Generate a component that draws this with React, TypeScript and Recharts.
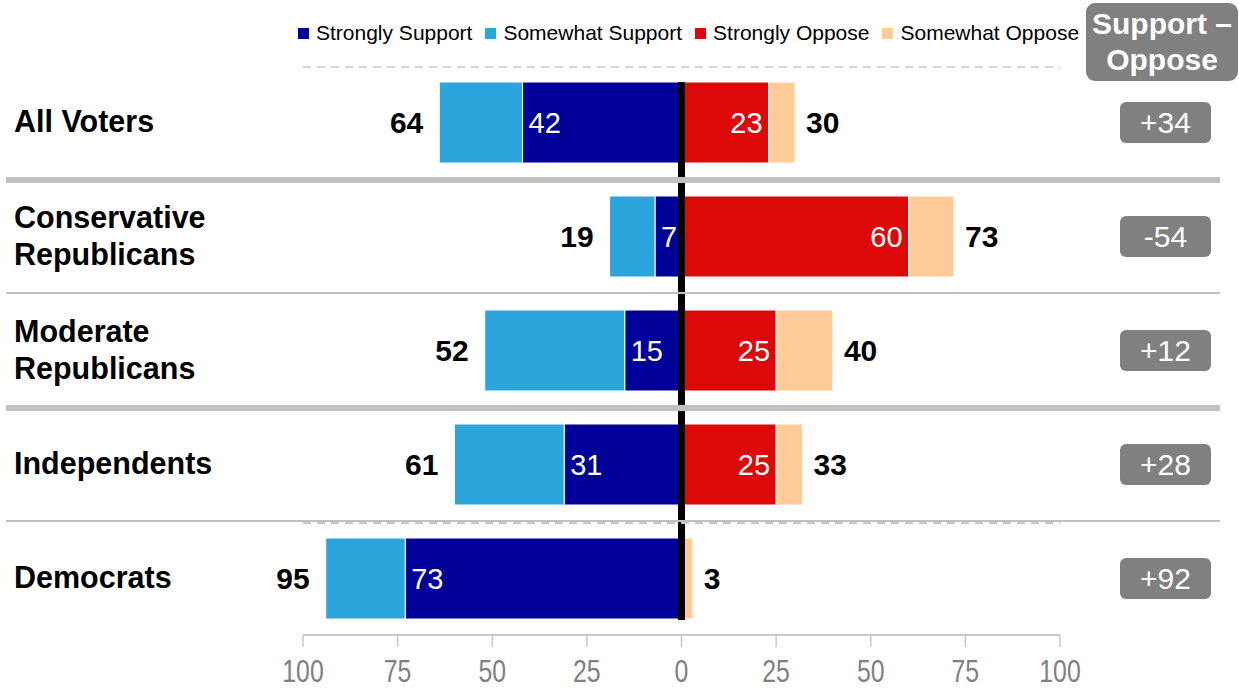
import React from 'react';
import { BarChart, Bar, XAxis, YAxis, LabelList, ReferenceLine, Legend } from 'recharts';

const categories = ['All Voters', 'Conservative Republicans', 'Moderate Republicans', 'Independents', 'Democrats'];
const stronglySupport = [42, 7, 15, 31, 73];
const somewhatSupport = [22, 12, 37, 29, 21];
const stronglyOppose = [23, 60, 25, 25, 0];
const somewhatOppose = [7, 12, 15, 7, 3];
const supportTotals = [64, 19, 52, 61, 95];
const opposeTotals = [30, 73, 40, 33, 3];
const netLabels = ['+34', '-54', '+12', '+28', '+92'];
const xTicks = [-100, -75, -50, -25, 0, 25, 50, 75, 100];
const legendOrder = ['Strongly Support', 'Somewhat Support', 'Strongly Oppose', 'Somewhat Oppose'];

const COLORS = {
  stronglySupport: '#000099',
  somewhatSupport: '#2CA5DC',
  stronglyOppose: '#DD0909',
  somewhatOppose: '#FFCC99',
};

const FONT = "'Liberation Sans', Arial, Helvetica, sans-serif";

const data = categories.map((c, i) => ({
  category: c,
  stronglySupport: -stronglySupport[i],
  somewhatSupport: -somewhatSupport[i],
  stronglyOppose: stronglyOppose[i],
  somewhatOppose: somewhatOppose[i],
  supportTotal: supportTotals[i],
  opposeTotal: opposeTotals[i],
}));

const W = 1239;
const H = 688;
const M = { top: 65, right: 179, bottom: 0, left: 0 };
const Y_AXIS_W = 303;
const X_AXIS_H = 53;
const BAND_HALF = (H - M.top - X_AXIS_H) / categories.length / 2;

function box(props: any) {
  const vb = props.viewBox && props.viewBox.width !== undefined ? props.viewBox : props;
  const x = Number(vb.x), w = Number(vb.width), y = Number(vb.y), h = Number(vb.height);
  return { left: Math.min(x, x + w), right: Math.max(x, x + w), cy: y + h / 2 };
}

const InsideStartLabel = (props: any) => {
  const v = Math.abs(Number(props.value));
  if (!v) return null;
  const b = box(props);
  return (
    <text x={b.left + 6} y={b.cy} dy={10} textAnchor="start" fill="#fff" fontSize={29} fontFamily={FONT}>
      {v}
    </text>
  );
};

const InsideEndLabel = (props: any) => {
  const v = Math.abs(Number(props.value));
  if (!v) return null;
  const b = box(props);
  return (
    <text x={b.right - 6} y={b.cy} dy={10} textAnchor="end" fill="#fff" fontSize={29} fontFamily={FONT}>
      {v}
    </text>
  );
};

const LeftTotalLabel = (props: any) => {
  const b = box(props);
  return (
    <text x={b.left - 16} y={b.cy} dy={10} textAnchor="end" fill="#000" fontSize={30} fontWeight="bold" fontFamily={FONT}>
      {props.value}
    </text>
  );
};

const RightTotalLabel = (props: any) => {
  const b = box(props);
  return (
    <text x={b.right + 11} y={b.cy} dy={10} textAnchor="start" fill="#000" fontSize={30} fontWeight="bold" fontFamily={FONT}>
      {props.value}
    </text>
  );
};

const CategoryTick = (props: any) => {
  const { y, payload, index } = props;
  const name: string = String(payload.value);
  const words = name.split(' ');
  const lines = words.length > 1 && name.length > 12 ? words : [name];
  const lh = 37;
  const startY = y - ((lines.length - 1) * lh) / 2 + 10;
  const plotL = Y_AXIS_W;
  const plotR = W - M.right;
  const topY = y - BAND_HALF;
  let sep: React.ReactNode = null;
  if (index === 0) {
    sep = <line x1={plotL} x2={plotR} y1={topY + 2} y2={topY + 2} stroke="#c8c8c8" strokeWidth={1.5} strokeDasharray="8 6" />;
  } else if (index === 1 || index === 3) {
    sep = <line x1={6} x2={1220} y1={topY + 1} y2={topY + 1} stroke="#c0c0c0" strokeWidth={6} />;
  } else {
    sep = (
      <g>
        <line x1={6} x2={1220} y1={topY} y2={topY} stroke="#c0c0c0" strokeWidth={2} />
        {index === 4 ? (
          <line x1={plotL} x2={plotR} y1={topY + 2} y2={topY + 2} stroke="#c8c8c8" strokeWidth={2} strokeDasharray="8 6" />
        ) : null}
      </g>
    );
  }
  return (
    <g>
      {sep}
      <text x={14} y={startY} textAnchor="start" fill="#000" fontSize={30.5} fontWeight="bold" fontFamily={FONT}>
        {lines.map((l, i) => (
          <tspan key={i} x={14} y={startY + i * lh}>
            {l}
          </tspan>
        ))}
      </text>
      <rect x={1120} y={y - 20} width={91} height={41} rx={6} ry={6} fill="#808080" />
      <text x={1165.5} y={y} dy={10.5} textAnchor="middle" fill="#fff" fontSize={30} fontFamily={FONT}>
        {netLabels[index]}
      </text>
    </g>
  );
};

const ValueTick = (props: any) => {
  const { x, payload } = props;
  return (
    <g transform={`translate(${x},${682}) scale(0.8,1)`}>
      <text x={0} y={0} textAnchor="middle" fill="#808080" fontSize={31} fontFamily={FONT}>
        {Math.abs(Number(payload.value))}
      </text>
    </g>
  );
};

const LegendContent = (props: any) => {
  const payload = [...(props.payload || [])].sort(
    (a: any, b: any) => legendOrder.indexOf(a.value) - legendOrder.indexOf(b.value)
  );
  return (
    <div style={{ display: 'flex', alignItems: 'center', fontFamily: FONT, fontSize: 21, color: '#000', whiteSpace: 'nowrap' }}>
      {payload.map((p: any, i: number) => (
        <div key={i} style={{ display: 'flex', alignItems: 'center', marginRight: 13 }}>
          <span style={{ display: 'inline-block', width: 11, height: 11, background: p.color, marginRight: 7 }} />
          <span>{p.value}</span>
        </div>
      ))}
    </div>
  );
};

const CenterLine = (p: any) => {
  const top = Math.min(p.y1, p.y2);
  const bottom = Math.max(p.y1, p.y2);
  return <line x1={p.x1} x2={p.x2} y1={top + 17} y2={bottom - 15} stroke="#000" strokeWidth={7} />;
};

export default function App() {
  return (
    <div style={{ position: 'absolute', left: 0, top: 0, width: W, height: H, background: '#fff', fontFamily: FONT }}>
      <BarChart
        width={W}
        height={H}
        data={data}
        layout="vertical"
        stackOffset="sign"
        barSize={81}
        margin={M}
      >
        <XAxis
          type="number"
          domain={[-100, 100]}
          ticks={xTicks}
          height={X_AXIS_H}
          axisLine={{ stroke: '#c8c8c8', strokeWidth: 2 }}
          tickLine={{ stroke: '#c8c8c8', strokeWidth: 1.5 }}
          tickSize={12}
          tick={<ValueTick />}
          interval={0}
        />
        <YAxis
          type="category"
          dataKey="category"
          width={Y_AXIS_W}
          axisLine={false}
          tickLine={false}
          interval={0}
          tick={<CategoryTick />}
        />
        <Legend
          layout="horizontal"
          verticalAlign="middle"
          align="center"
          content={<LegendContent />}
          wrapperStyle={{ top: 21, left: 298, width: 'auto', height: 'auto' }}
        />
        <Bar dataKey="stronglySupport" name="Strongly Support" stackId="a" fill={COLORS.stronglySupport} stroke="#fff" strokeWidth={1} isAnimationActive={false}>
          <LabelList dataKey="stronglySupport" content={<InsideStartLabel />} />
        </Bar>
        <Bar dataKey="somewhatSupport" name="Somewhat Support" stackId="a" fill={COLORS.somewhatSupport} stroke="#fff" strokeWidth={1} isAnimationActive={false}>
          <LabelList dataKey="supportTotal" content={<LeftTotalLabel />} />
        </Bar>
        <Bar dataKey="stronglyOppose" name="Strongly Oppose" stackId="a" fill={COLORS.stronglyOppose} stroke="#fff" strokeWidth={1} isAnimationActive={false}>
          <LabelList dataKey="stronglyOppose" content={<InsideEndLabel />} />
        </Bar>
        <Bar dataKey="somewhatOppose" name="Somewhat Oppose" stackId="a" fill={COLORS.somewhatOppose} stroke="#fff" strokeWidth={1} isAnimationActive={false}>
          <LabelList dataKey="opposeTotal" content={<RightTotalLabel />} />
        </Bar>
        <ReferenceLine x={0} stroke="#000" strokeWidth={7} shape={<CenterLine />} />
      </BarChart>
      <div
        style={{
          position: 'absolute',
          left: 1086,
          top: 3,
          width: 152,
          height: 78,
          background: '#808080',
          borderRadius: 9,
          color: '#fff',
          fontWeight: 'bold',
          fontSize: 30,
          lineHeight: '36px',
          textAlign: 'center',
          display: 'flex',
          flexDirection: 'column',
          justifyContent: 'center',
        }}
      >
        <div>Support –</div>
        <div>Oppose</div>
      </div>
    </div>
  );
}
